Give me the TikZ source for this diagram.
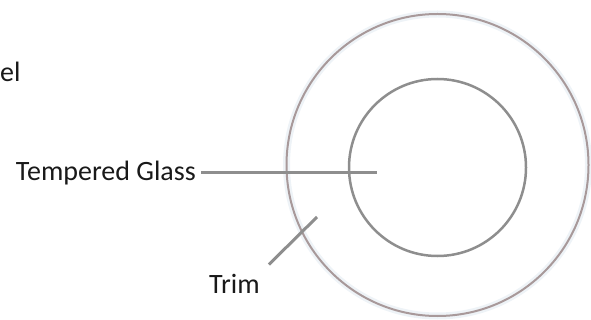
\documentclass[tikz,border=0pt]{standalone}
\usepackage{fontspec}
\setmainfont{Carlito}
\definecolor{RingGray}{HTML}{A8999A}
\definecolor{GlassGray}{HTML}{8E8E8E}
\definecolor{HaloBlue}{HTML}{EEF3F7}
\usetikzlibrary{positioning, calc}

\begin{document}
\begin{tikzpicture}[
  x=1pt, y=-1pt,
  lbl/.style={inner sep=0pt, font=\fontsize{28}{32}\selectfont, text=black!90},
  leader/.style={draw=GlassGray, line width=3pt},
  ring/.style={draw=RingGray, line width=2pt},
  glass/.style={draw=GlassGray, line width=2.5pt}
]
  \useasboundingbox (0,0) rectangle (591,320);
  % trim and glass
  \coordinate (c) at (437.5,165);
  \draw[HaloBlue, line width=7pt] (c) circle[radius=151pt];
  \draw[ring] (c) circle[radius=151pt];
  \draw[glass] (437.5,167.5) circle[radius=88.5pt];
  % labels
  \node[lbl, anchor=base west] (panel) at (0,82) {el};
  \node[lbl, anchor=east, inner xsep=5pt] (tglass) at (201,173) {Tempered Glass};
  \node[lbl, anchor=base west] (trim) at (209,293) {Trim};
  \coordinate (glasspt) at (377,173);
  \coordinate (trimpt) at (317,217);
  \draw[leader] (tglass.east) -- (glasspt);
  \draw[leader] ([shift={(9,-9)}]trim.north east) -- (trimpt);
\end{tikzpicture}
\end{document}
